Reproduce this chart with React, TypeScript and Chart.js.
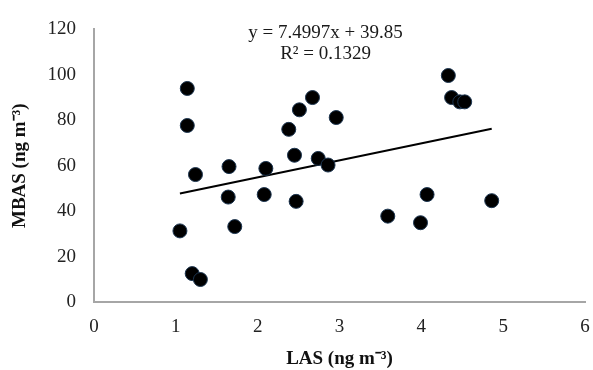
import React, { useEffect, useRef } from "react";
import { Chart, registerables } from "chart.js";

Chart.register(...registerables);

const lasValues = [1.14, 1.14, 1.24, 1.65, 2.10, 2.38, 2.45, 2.51, 2.67, 2.96, 2.74, 2.86, 4.33, 4.37, 4.47, 4.53, 1.05, 1.20, 1.30, 1.64, 1.72, 2.08, 2.47, 3.59, 3.99, 4.07, 4.86];
const mbasValues = [94.0, 77.7, 56.1, 59.6, 58.8, 76.0, 64.6, 84.6, 90.0, 81.2, 63.2, 60.3, 99.7, 90.0, 88.1, 88.1, 31.3, 12.5, 9.9, 46.2, 33.2, 47.3, 44.3, 37.8, 34.9, 47.3, 44.6];
const trendSlope = 7.4997;
const trendIntercept = 39.85;
const trendRange = [1.05, 4.86];
const equationLines = ["y = 7.4997x + 39.85", "R² = 0.1329"];
const xTitle = "LAS (ng m⁻³)";
const yTitle = "MBAS (ng m⁻³)";

const FONT = "'Liberation Serif', 'Times New Roman', serif";

export default function App() {
  const ref = useRef<HTMLCanvasElement | null>(null);
  useEffect(() => {
    document.body.style.margin = "0";
    const canvas = ref.current;
    if (!canvas) return;
    const points = lasValues.map((x, i) => ({ x, y: mbasValues[i] }));
    const trend = trendRange.map((x) => ({ x, y: trendSlope * x + trendIntercept }));
    const eqPlugin = {
      id: "eq",
      afterDraw(chart: any) {
        const ctx = chart.ctx;
        const xs = chart.scales.x;
        const ys = chart.scales.y;
        ctx.save();
        ctx.font = `19px ${FONT}`;
        ctx.fillStyle = "#1a1a1a";
        ctx.textAlign = "center";
        ctx.textBaseline = "middle";
        const cx = xs.getPixelForValue(2.83);
        ctx.fillText(equationLines[0], cx, ys.getPixelForValue(118.5));
        ctx.fillText(equationLines[1], cx, ys.getPixelForValue(109));
        ctx.restore();
      },
    };
    const chart = new Chart(canvas, {
      type: "scatter",
      data: {
        datasets: [
          {
            data: points,
            backgroundColor: "#000",
            borderColor: "#1c3550",
            borderWidth: 1,
            pointRadius: 7,
            pointHoverRadius: 7,
          },
          {
            type: "line",
            data: trend,
            borderColor: "#000",
            borderWidth: 2,
            pointRadius: 0,
            showLine: true,
            fill: false,
          } as any,
        ],
      },
      options: {
        animation: false,
        responsive: false,
        layout: { padding: { left: 0, right: 0, top: 25, bottom: 0 } },
        plugins: { legend: { display: false }, tooltip: { enabled: false } },
        scales: {
          x: {
            type: "linear",
            min: 0,
            max: 6,
            ticks: { stepSize: 1, color: "#222", font: { family: FONT, size: 19 }, padding: 14 },
            grid: { display: false, drawTicks: false },
            border: { color: "#a6a6a6", width: 2 },
            title: {
              display: true,
              text: xTitle,
              color: "#111",
              font: { family: FONT, size: 19, weight: "bold" },
              padding: { top: 0, bottom: 0 },
            },
            afterFit: (s: any) => { s.height = 68; s.paddingRight = 7; },
          },
          y: {
            type: "linear",
            min: 0,
            max: 120,
            ticks: { stepSize: 20, color: "#222", font: { family: FONT, size: 19 }, padding: 18 },
            grid: { display: false, drawTicks: false },
            border: { color: "#a6a6a6", width: 2 },
            title: {
              display: true,
              text: yTitle,
              color: "#111",
              font: { family: FONT, size: 19, weight: "bold" },
              padding: { top: 9, bottom: 0 },
            },
            afterFit: (s: any) => { s.width = 94; },
          },
        },
      },
      plugins: [eqPlugin],
    });
    return () => chart.destroy();
  }, []);
  return (
    <div style={{ width: 593, height: 370, background: "#fff" }}>
      <canvas ref={ref} width={593} height={370} />
    </div>
  );
}
